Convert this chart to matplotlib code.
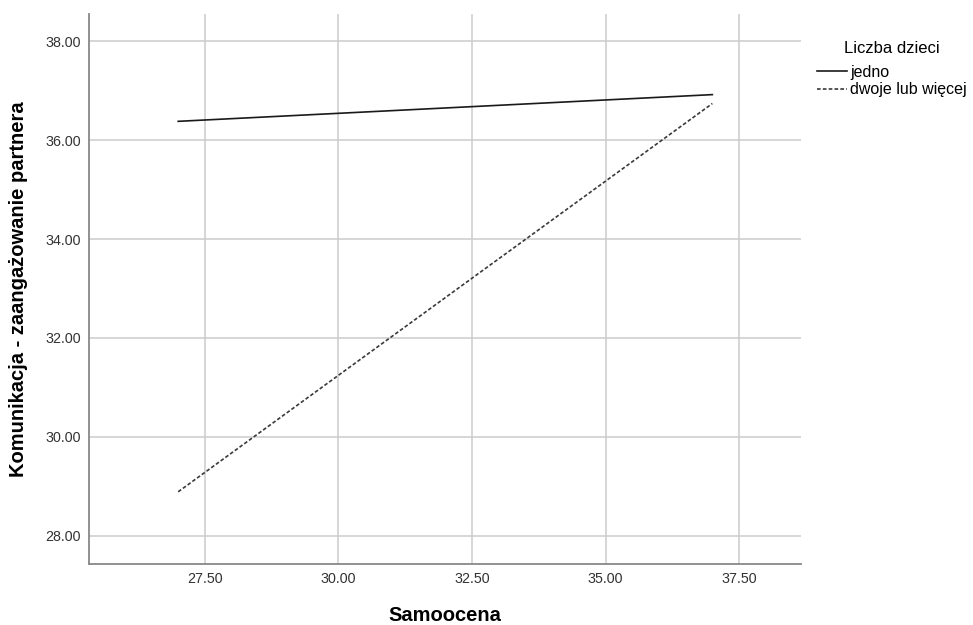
import matplotlib
matplotlib.use("Agg")
import matplotlib.pyplot as plt

plt.rcParams['font.family'] = ['Liberation Sans', 'DejaVu Sans']

samoocena = [27.0, 37.0]
jedno = [36.38, 36.92]
dwoje = [28.89, 36.74]
series_labels = ["jedno", "dwoje lub więcej"]
legend_title = "Liczba dzieci"
xticks = [27.5, 30.0, 32.5, 35.0, 37.5]
yticks = [28.0, 30.0, 32.0, 34.0, 36.0, 38.0]

fig = plt.figure(figsize=(9.73, 6.25), dpi=100)
ax = fig.add_axes([89/973, 61/625, (801-89)/973, (564-14)/625])

ax.plot(samoocena, jedno, color='#1a1a1a', lw=1.2, ls='-', label=series_labels[0])
ax.plot(samoocena, dwoje, color='#3a3a3a', lw=1.2, ls=(0, (2.2, 1.3)), label=series_labels[1])

ax.set_xlim(25.33, 38.66)
ax.set_ylim(27.43, 38.55)
ax.set_xticks(xticks)
ax.set_yticks(yticks)
ax.set_xticklabels([f"{v:.2f}" for v in xticks])
ax.set_yticklabels([f"{v:.2f}" for v in yticks])
ax.grid(True, color='#cccccc', lw=1.1)
ax.set_axisbelow(True)
for s in ['top', 'right']:
    ax.spines[s].set_visible(False)
for s in ['left', 'bottom']:
    ax.spines[s].set_color('#888888')
    ax.spines[s].set_linewidth(1.3)
ax.tick_params(length=0, labelsize=10.3, labelcolor='#333333', pad=6)

ax.set_xlabel("Samoocena", fontsize=14.5, fontweight='bold', labelpad=14)
ax.set_ylabel("Komunikacja - zaangażowanie partnera", fontsize=14.5, fontweight='bold', labelpad=12)

leg = ax.legend(title=legend_title, loc='upper left', bbox_to_anchor=(1.022, 0.951),
                frameon=False, fontsize=11.5, title_fontsize=12, handlelength=1.9,
                handletextpad=0.2, labelspacing=0.15, borderaxespad=0, borderpad=0)
leg._legend_box.align = "center"
leg._legend_box.sep = 6.5

fig.savefig("out.png", dpi=100)
